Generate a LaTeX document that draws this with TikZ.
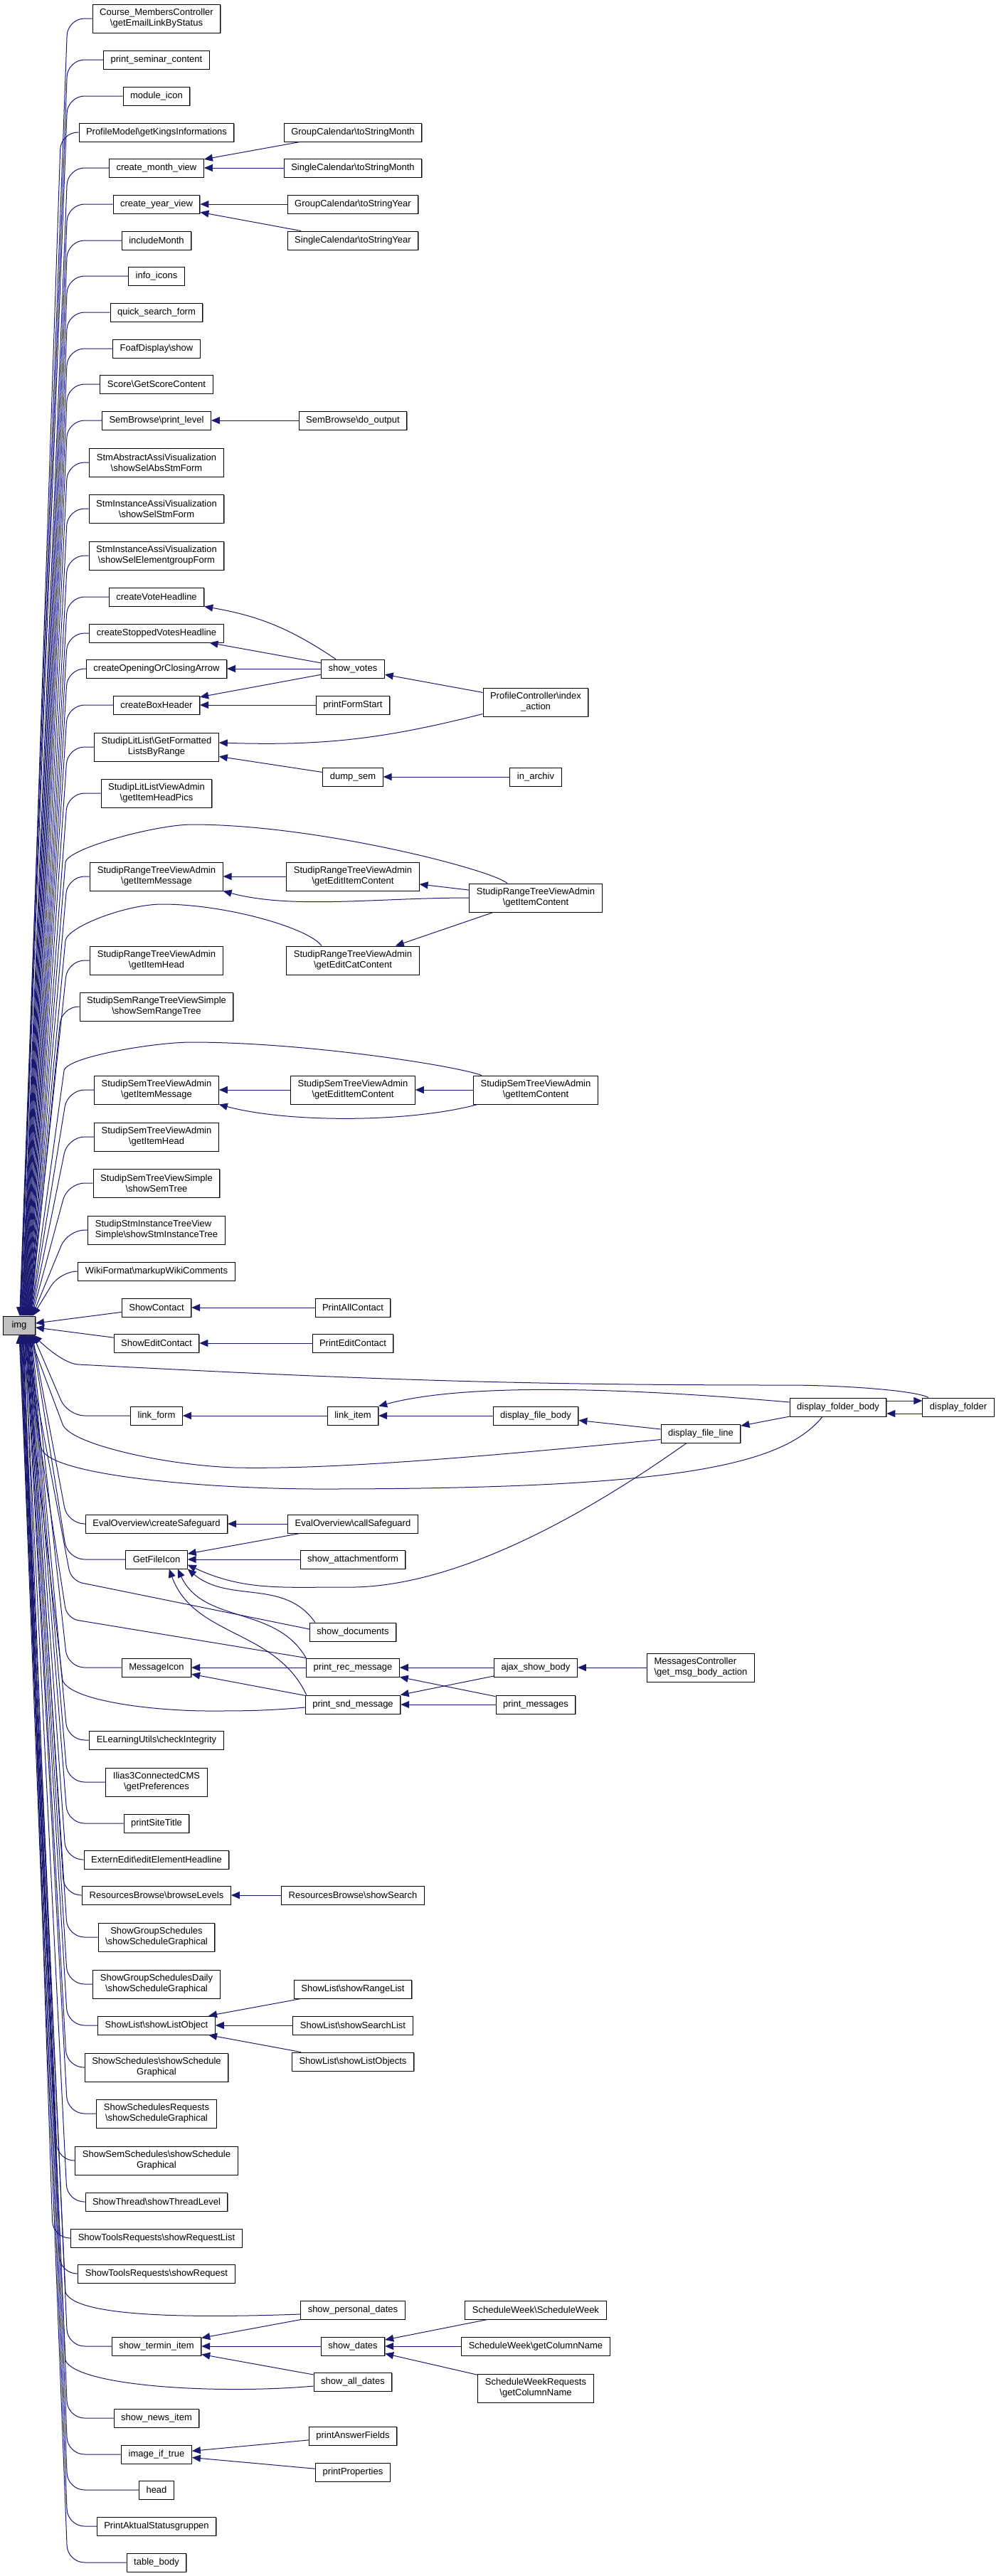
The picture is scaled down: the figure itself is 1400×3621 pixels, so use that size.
\documentclass[tikz,border=0pt]{standalone}
\usepackage{fontspec}
\setmainfont{Liberation Sans}
\usetikzlibrary{arrows.meta,calc,shadows}
\definecolor{edgeblue}{HTML}{191970}
\newcommand{\bksl}{\textbackslash}
\tikzset{fnbox/.style={draw,
                       rectangle,
                       fill=white,
                       line width=0.5pt,
                       drop shadow={shadow xshift=0.5pt, shadow yshift=-0.6pt, fill=gray, opacity=1},
                       font=\fontsize{6.5}{7.5}\selectfont,
                       inner xsep=5pt,
                       inner ysep=1pt,
                       minimum height=13pt,
                       align=center},
         tall/.style={minimum height=20pt},
         call/.style={->, color=edgeblue, line width=0.5pt}}
\begin{document}
\begin{tikzpicture}[x=0.5pt,y=-0.5pt,>={Triangle[length=6pt,width=5pt]}]
    \useasboundingbox (0,0) rectangle (1400,3621);
    \fill [white] (0,0) rectangle (1400,3621);
    % We start by placing the called function
    \node [fnbox, fill=gray!50, minimum width=22.5pt] (img) at (27,1863) {img};
    % direct callers
    \node [fnbox, tall] (cmc) at (220,26) {Course\_MembersController\\\bksl getEmailLinkByStatus};
    \node [fnbox] (pss) at (220,84) {print\_seminar\_content};
    \node [fnbox] (modicon) at (220,135) {module\_icon};
    \node [fnbox] (pmgki) at (220,186) {ProfileModel\bksl getKingsInformations};
    \node [fnbox] (cmonth) at (220,236) {create\_month\_view};
    \node [fnbox] (cyear) at (220,287) {create\_year\_view};
    \node [fnbox] (incmonth) at (220,338) {includeMonth};
    \node [fnbox] (infoicons) at (220,388) {info\_icons};
    \node [fnbox] (qsf) at (220,439) {quick\_search\_form};
    \node [fnbox] (foaf) at (220,490) {FoafDisplay\bksl show};
    \node [fnbox] (score) at (220,540) {Score\bksl GetScoreContent};
    \node [fnbox] (sbpl) at (220,591) {SemBrowse\bksl print\_level};
    \node [fnbox, tall] (stmabs) at (220,650) {StmAbstractAssiVisualization\\\bksl showSelAbsStmForm};
    \node [fnbox, tall] (stmsel) at (220,715) {StmInstanceAssiVisualization\\\bksl showSelStmForm};
    \node [fnbox, tall] (stmelem) at (220,781) {StmInstanceAssiVisualization\\\bksl showSelElementgroupForm};
    \node [fnbox] (cvh) at (220,839) {createVoteHeadline};
    \node [fnbox] (csvh) at (220,890) {createStoppedVotesHeadline};
    \node [fnbox] (cocarrow) at (220,940) {createOpeningOrClosingArrow};
    \node [fnbox] (cbh) at (220,991) {createBoxHeader};
    \node [fnbox, tall] (sllgf) at (220,1050) {StudipLitList\bksl GetFormatted\\ListsByRange};
    \node [fnbox, tall] (sllvhp) at (220,1115) {StudipLitListViewAdmin\\\bksl getItemHeadPics};
    \node [fnbox, tall] (rtvim) at (220,1232) {StudipRangeTreeViewAdmin\\\bksl getItemMessage};
    \node [fnbox, tall] (rtvih) at (220,1350) {StudipRangeTreeViewAdmin\\\bksl getItemHead};
    \node [fnbox, tall] (srtvs) at (220,1415) {StudipSemRangeTreeViewSimple\\\bksl showSemRangeTree};
    \node [fnbox, tall] (stvim) at (220,1532) {StudipSemTreeViewAdmin\\\bksl getItemMessage};
    \node [fnbox, tall] (stvih) at (220,1598) {StudipSemTreeViewAdmin\\\bksl getItemHead};
    \node [fnbox, tall] (stvss) at (220,1663) {StudipSemTreeViewSimple\\\bksl showSemTree};
    \node [fnbox, tall, align=left] (sitvs) at (220,1729) {StudipStmInstanceTreeView\\Simple\bksl showStmInstanceTree};
    \node [fnbox] (wiki) at (220,1787) {WikiFormat\bksl markupWikiComments};
    \node [fnbox] (showc) at (220,1838) {ShowContact};
    \node [fnbox] (showec) at (220,1888) {ShowEditContact};
    \node [fnbox] (linkform) at (220,1990) {link\_form};
    \node [fnbox] (evcs) at (220,2142) {EvalOverview\bksl createSafeguard};
    \node [fnbox] (gfi) at (220,2192) {GetFileIcon};
    \node [fnbox] (msgicon) at (220,2344) {MessageIcon};
    \node [fnbox] (elu) at (220,2446) {ELearningUtils\bksl checkIntegrity};
    \node [fnbox, tall] (ilias) at (220,2505) {Ilias3ConnectedCMS\\\bksl getPreferences};
    \node [fnbox] (pst) at (220,2563) {printSiteTitle};
    \node [fnbox] (eeeh) at (220,2614) {ExternEdit\bksl editElementHeadline};
    \node [fnbox] (rbbl) at (220,2664) {ResourcesBrowse\bksl browseLevels};
    \node [fnbox, tall] (sgs) at (220,2723) {ShowGroupSchedules\\\bksl showScheduleGraphical};
    \node [fnbox, tall] (sgsd) at (220,2789) {ShowGroupSchedulesDaily\\\bksl showScheduleGraphical};
    \node [fnbox] (slo) at (220,2847) {ShowList\bksl showListObject};
    \node [fnbox, tall] (sss) at (220,2906) {ShowSchedules\bksl showSchedule\\Graphical};
    \node [fnbox, tall] (ssr) at (220,2971) {ShowSchedulesRequests\\\bksl showScheduleGraphical};
    \node [fnbox, tall] (ssems) at (220,3037) {ShowSemSchedules\bksl showSchedule\\Graphical};
    \node [fnbox] (sttl) at (220,3095) {ShowThread\bksl showThreadLevel};
    \node [fnbox] (strl) at (220,3146) {ShowToolsRequests\bksl showRequestList};
    \node [fnbox] (str) at (220,3196) {ShowToolsRequests\bksl showRequest};
    \node [fnbox] (sti) at (220,3298) {show\_termin\_item};
    \node [fnbox] (sni) at (220,3399) {show\_news\_item};
    \node [fnbox] (iit) at (220,3450) {image\_if\_true};
    \node [fnbox] (head) at (220,3500) {head};
    \node [fnbox] (pas) at (220,3551) {PrintAktualStatusgruppen};
    \node [fnbox] (tbody) at (220,3602) {table\_body};
    % second level
    \node [fnbox] (gcmonth) at (496,186) {GroupCalendar\bksl toStringMonth};
    \node [fnbox] (scmonth) at (496,236) {SingleCalendar\bksl toStringMonth};
    \node [fnbox] (gcyear) at (496,287) {GroupCalendar\bksl toStringYear};
    \node [fnbox] (scyear) at (496,338) {SingleCalendar\bksl toStringYear};
    \node [fnbox] (sbdo) at (496,591) {SemBrowse\bksl do\_output};
    \node [fnbox] (votes) at (496,940) {show\_votes};
    \node [fnbox] (pfs) at (496,991) {printFormStart};
    \node [fnbox] (dumpsem) at (496,1092) {dump\_sem};
    \node [fnbox, tall] (rtveic) at (496,1232) {StudipRangeTreeViewAdmin\\\bksl getEditItemContent};
    \node [fnbox, tall] (rtvecc) at (496,1350) {StudipRangeTreeViewAdmin\\\bksl getEditCatContent};
    \node [fnbox, tall] (stveic) at (496,1532) {StudipSemTreeViewAdmin\\\bksl getEditItemContent};
    \node [fnbox] (pac) at (496,1838) {PrintAllContact};
    \node [fnbox] (pec) at (496,1888) {PrintEditContact};
    \node [fnbox] (linkitem) at (496,1990) {link\_item};
    \node [fnbox] (evcall) at (496,2142) {EvalOverview\bksl callSafeguard};
    \node [fnbox] (saf) at (496,2192) {show\_attachmentform};
    \node [fnbox] (sd) at (496,2294) {show\_documents};
    \node [fnbox] (prm) at (496,2344) {print\_rec\_message};
    \node [fnbox] (psm) at (496,2396) {print\_snd\_message};
    \node [fnbox] (rbss) at (496,2664) {ResourcesBrowse\bksl showSearch};
    \node [fnbox] (slrl) at (496,2796) {ShowList\bksl showRangeList};
    \node [fnbox] (slsl) at (496,2847) {ShowList\bksl showSearchList};
    \node [fnbox] (slos) at (496,2898) {ShowList\bksl showListObjects};
    \node [fnbox] (spd) at (496,3247) {show\_personal\_dates};
    \node [fnbox] (sdates) at (496,3298) {show\_dates};
    \node [fnbox] (sad) at (496,3348) {show\_all\_dates};
    \node [fnbox] (paf) at (496,3424) {printAnswerFields};
    \node [fnbox] (pprop) at (496,3475) {printProperties};
    % third level and beyond
    \node [fnbox, tall] (pcia) at (753,987) {ProfileController\bksl index\\\_action};
    \node [fnbox] (inarch) at (753,1092) {in\_archiv};
    \node [fnbox, tall] (rtvic) at (753,1262) {StudipRangeTreeViewAdmin\\\bksl getItemContent};
    \node [fnbox, tall] (stvic) at (753,1532) {StudipSemTreeViewAdmin\\\bksl getItemContent};
    \node [fnbox] (dfbody) at (753,1990) {display\_file\_body};
    \node [fnbox] (ajax) at (753,2344) {ajax\_show\_body};
    \node [fnbox] (pmsgs) at (753,2396) {print\_messages};
    \node [fnbox] (swsw) at (753,3247) {ScheduleWeek\bksl ScheduleWeek};
    \node [fnbox] (swgcn) at (753,3298) {ScheduleWeek\bksl getColumnName};
    \node [fnbox, tall] (swrgcn) at (753,3357) {ScheduleWeekRequests\\\bksl getColumnName};
    \node [fnbox] (dfline) at (985,2015) {display\_file\_line};
    \node [fnbox, tall, align=left] (mcgmb) at (985,2344) {MessagesController\\\bksl get\_msg\_body\_action};
    \node [fnbox] (dfb) at (1178,1978) {display\_folder\_body};
    \node [fnbox] (dfold) at (1347,1978) {display\_folder};
    % points the long connectors pass through
    \coordinate (rtapex) at (270,1159);
    \coordinate (rtdrop) at (92,1212);
    \coordinate (rteapex) at (228,1271);
    \coordinate (rtedrop) at (92,1322);
    \coordinate (stapex) at (269,1465);
    \coordinate (stdrop) at (90,1505);
    \coordinate (dfvia) at (1105,1947);
    \coordinate (dfknee) at (110,1918);
    \coordinate (dfbvia) at (450,2093);
    \coordinate (dfbknee) at (58,2035);
    \coordinate (dflvia) at (330,2063);
    \coordinate (dflknee) at (88,2002);
    \coordinate (gfilow) at (483,2231);
    \coordinate (sdknee) at (100,2222);
    \coordinate (prmknee) at (94,2275);
    \coordinate (psmvia) at (295,2405);
    \coordinate (psmknee) at (88,2362);
    \coordinate (spdknee) at (92,3222);
    \coordinate (sadknee) at (92,3318);
    % callers above img
    \foreach \fn [count=\i] in {cmc,pss,modicon,pmgki,cmonth,cyear,incmonth,infoicons,qsf,foaf,
        score,sbpl,stmabs,stmsel,stmelem,cvh,csvh,cocarrow,cbh,sllgf,sllvhp,rtvim,rtvih,srtvs,
        stvim,stvih,stvss,sitvs,wiki}{
        \pgfmathsetmacro\off{0.33*\i}
        \draw [call, rounded corners=12pt] let \p1=(\fn.west) in
            (\p1) -- ({min(\x1-12.5pt,47.5pt)},\y1) -- ([xshift=\off pt]img.north);
    }
    % callers below img
    \foreach \fn [count=\i] in {linkform,evcs,gfi,msgicon,elu,ilias,pst,eeeh,rbbl,sgs,sgsd,slo,
        sss,ssr,ssems,sttl,strl,str,sti,sni,iit,head,pas,tbody}{
        \pgfmathsetmacro\off{10-0.4*\i}
        \draw [call, rounded corners=12pt] let \p1=(\fn.west) in
            (\p1) -- ({min(\x1-12.5pt,47.5pt)},\y1) -- ([xshift=\off pt]img.south);
    }
    % straight calls
    \foreach \src/\dst in {gcmonth/cmonth, scmonth/cmonth, gcyear/cyear, scyear/cyear,
        sbdo/sbpl, votes/csvh, votes/cocarrow, votes/cbh, pfs/cbh, pcia/votes,
        dumpsem/sllgf, inarch/dumpsem, rtveic/rtvim, rtvic/rtveic, rtvic/rtvecc,
        stveic/stvim, stvic/stveic, pac/showc, pec/showec, showc/img, showec/img,
        dfb/dfline, linkitem/linkform, dfbody/linkitem, dfline/dfbody,
        evcall/evcs, evcall/gfi, saf/gfi, prm/msgicon, psm/msgicon,
        ajax/prm, ajax/psm, pmsgs/prm, pmsgs/psm, mcgmb/ajax, rbss/rbbl,
        slrl/slo, slsl/slo, slos/slo, spd/sti, sdates/sti, sad/sti,
        swsw/sdates, swgcn/sdates, swrgcn/sdates, paf/iit, pprop/iit}
        \draw [call] (\src) -- (\dst);
    % curved calls
    \draw [call] ([xshift=-12pt]votes.north) to[bend right=12] (cvh.south east);
    \draw [call] ([yshift=2pt]pcia.south west) to[bend left=8] ([yshift=3pt]sllgf.east);
    \draw [call] (rtvic.west) to[out=180,in=-15,out distance=65pt,in distance=50pt] (rtvim.south east);
    \draw [call] ([xshift=3pt]stvic.south west) to[out=-165,in=-15,distance=50pt] (stvim.south east);
    \draw [call] ([yshift=4.5pt]dfb.east) -- ([yshift=4.5pt]dfold.west);
    \draw [call] ([yshift=-4.5pt]dfold.west) -- ([yshift=-4.5pt]dfb.east);
    \draw [call] ([yshift=3.5pt]dfb.west) to[out=175,in=15,distance=75pt] (linkitem.north east);
    \draw [call] ([xshift=-10pt]dfline.south) .. controls (850,2110) and (650,2235) .. (gfilow)
        to[out=180,in=-25] ([yshift=3pt]gfi.south east);
    \draw [call] ([xshift=4pt]sd.north west) to[out=125,in=-40] (gfi.south east);
    \draw [call] (prm.north west) to[out=120,in=-65] ([xshift=-7pt]gfi.south east);
    \draw [call] ([xshift=1pt]psm.north west) to[out=115,in=-70] ([xshift=-13pt]gfi.south east);
    % long connectors back to img
    \draw [call] ([xshift=-20pt]rtvic.north) to[out=140,in=0,out distance=15pt] (rtapex)
        to[out=180,in=80,out distance=25pt,in distance=10pt] (rtdrop) -- ([xshift=7pt]img.north);
    \draw [call] ([xshift=-22pt]rtvecc.north) to[out=125,in=0,out distance=15pt] (rteapex)
        to[out=180,in=80,out distance=25pt,in distance=10pt] (rtedrop) -- ([xshift=7.5pt]img.north);
    \draw [call] ([xshift=-38pt]stvic.north) to[out=160,in=0,out distance=20pt] (stapex)
        to[out=180,in=80,out distance=25pt,in distance=10pt] (stdrop) -- ([xshift=8pt]img.north);
    \draw [call] ([xshift=-21pt]dfold.north) to[out=150,in=0,out distance=10pt,in distance=40pt] (dfvia)
        to[out=180,in=-3] (dfknee) to[out=177,in=-45,out distance=10pt,in distance=10pt] ([xshift=10pt]img.south);
    \draw [call] ([xshift=-11pt]dfb.south) .. controls (1100,2060) and (950,2093) .. (dfbvia)
        to[out=180,in=-80,in distance=20pt] (dfbknee) -- ([xshift=5pt]img.south);
    \draw [call] ([yshift=2.5pt]dfline.south west) .. controls (700,2045) and (480,2066) .. (dflvia)
        to[out=178,in=-70,in distance=15pt] (dflknee) -- ([xshift=7pt]img.south);
    \draw [call, rounded corners=8pt] ([yshift=2pt]sd.west) -- (sdknee) -- ([xshift=4pt]img.south);
    \draw [call, rounded corners=8pt] (prm.north west) -- (prmknee) -- ([xshift=3pt]img.south);
    \draw [call] ([yshift=-2pt]psm.west) to[out=185,in=0] (psmvia)
        to[out=180,in=-70,in distance=15pt] (psmknee) -- ([xshift=2pt]img.south);
    \draw [call] ([yshift=-3pt]spd.west) to[out=182,in=-70,in distance=20pt] (spdknee) -- ([xshift=1pt]img.south);
    \draw [call] ([yshift=-3pt]sad.west) to[out=185,in=-65,in distance=20pt] (sadknee) -- (img.south);
\end{tikzpicture}
\end{document}
